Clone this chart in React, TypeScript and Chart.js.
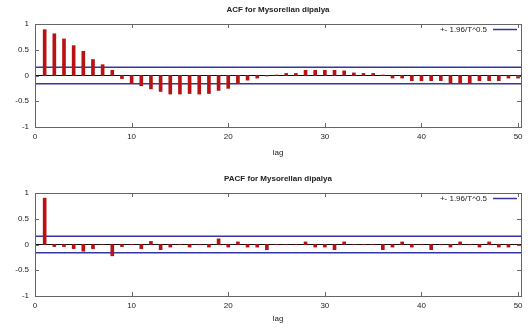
import React, { useEffect, useRef } from "react";
import { Chart, registerables } from "chart.js";

Chart.register(...registerables);

const lags = [
  1, 2, 3, 4, 5, 6, 7, 8, 9, 10, 11, 12, 13, 14, 15, 16, 17, 18, 19, 20, 21, 22, 23, 24, 25,
  26, 27, 28, 29, 30, 31, 32, 33, 34, 35, 36, 37, 38, 39, 40, 41, 42, 43, 44, 45, 46, 47, 48, 49, 50,
];

const acfValues = [
  0.89, 0.81, 0.71, 0.58, 0.47, 0.31, 0.21, 0.1, -0.06, -0.15,
  -0.2, -0.26, -0.31, -0.36, -0.36, -0.35, -0.36, -0.35, -0.29, -0.25,
  -0.15, -0.09, -0.05, -0.01, 0.01, 0.04, 0.04, 0.1, 0.1, 0.1,
  0.1, 0.09, 0.05, 0.04, 0.04, 0.01, -0.05, -0.05, -0.1, -0.1,
  -0.1, -0.1, -0.15, -0.15, -0.15, -0.1, -0.1, -0.1, -0.05, -0.05,
];

const pacfValues = [
  0.9, -0.04, -0.04, -0.08, -0.13, -0.08, 0.0, -0.22, -0.04, 0.0,
  -0.08, 0.06, -0.1, -0.05, 0.0, -0.05, 0.0, -0.05, 0.11, -0.05,
  0.05, -0.05, -0.05, -0.1, 0.0, 0.0, 0.0, 0.05, -0.05, -0.05,
  -0.1, 0.05, 0.0, 0.0, 0.0, -0.1, -0.05, 0.05, -0.05, 0.0,
  -0.1, 0.0, -0.05, 0.05, 0.0, -0.05, 0.05, -0.05, -0.05, 0.0,
];

const xTickValues = [0, 10, 20, 30, 40, 50];
const xTickLabels = ["0", "10", "20", "30", "40", "50"];
const yTickValues = [-1, -0.5, 0, 0.5, 1];
const yTickLabels = ["-1", "-0.5", "0", "0.5", "1"];
const confBand = 0.16;
const xMax = 50.3;
const legendLabel = "+- 1.96/T^0.5";
const acfTitle = "ACF for Mysorellan dipalya";
const pacfTitle = "PACF for Mysorellan dipalya";
const xAxisTitle = "lag";

const FONT = "'Liberation Sans', Arial, sans-serif";
const TEXT_COLOR = "#222";
const BAR_COLOR = "#b81212";
const BAND_COLOR = "#3636a0";

function framePlugin(title: string) {
  return {
    id: "frameDecor",
    afterDraw(chart: any) {
      const { ctx, chartArea: a, scales } = chart;
      const xs = scales.x;
      const ys = scales.y;
      ctx.save();
      ctx.strokeStyle = "#666";
      ctx.lineWidth = 1;
      ctx.strokeRect(Math.round(a.left) + 0.5, Math.round(a.top) + 0.5, Math.round(a.right - a.left), Math.round(a.bottom - a.top));
      ctx.beginPath();
      for (const v of xTickValues) {
        const px = Math.round(xs.getPixelForValue(v)) + 0.5;
        ctx.moveTo(px, a.bottom);
        ctx.lineTo(px, a.bottom - 4);
        ctx.moveTo(px, a.top);
        ctx.lineTo(px, a.top + 4);
      }
      for (const v of yTickValues) {
        const py = Math.round(ys.getPixelForValue(v)) + 0.5;
        ctx.moveTo(a.left, py);
        ctx.lineTo(a.left + 4, py);
        ctx.moveTo(a.right, py);
        ctx.lineTo(a.right - 4, py);
      }
      ctx.stroke();

      const ly = Math.round(a.top + 4.5) + 0.5;
      ctx.fillStyle = TEXT_COLOR;
      ctx.font = `8px ${FONT}`;
      ctx.textAlign = "right";
      ctx.textBaseline = "middle";
      ctx.fillText(legendLabel, a.right - 34, ly);
      ctx.strokeStyle = BAND_COLOR;
      ctx.lineWidth = 1.5;
      ctx.beginPath();
      ctx.moveTo(a.right - 28, ly);
      ctx.lineTo(a.right - 4, ly);
      ctx.stroke();

      ctx.fillStyle = TEXT_COLOR;
      ctx.font = `bold 8px ${FONT}`;
      ctx.textAlign = "center";
      ctx.fillText(title, (a.left + a.right) / 2, a.top - 14);
      ctx.restore();
    },
  };
}

type Props = {
  values: number[];
  title: string;
  height: number;
  top: number;
  padTop: number;
  xHeight: number;
  lagPad: number;
};

function CorrChart({ values, title, height, top, padTop, xHeight, lagPad }: Props) {
  const ref = useRef<HTMLCanvasElement | null>(null);
  useEffect(() => {
    if (!ref.current) return;
    const font = { family: FONT, size: 8 };
    const chart = new Chart(ref.current, {
      type: "bar",
      data: {
        datasets: [
          {
            type: "line",
            data: [
              { x: 0, y: 0 },
              { x: xMax, y: 0 },
            ],
            borderColor: "#111",
            borderWidth: 1,
            pointRadius: 0,
            order: 3,
          } as any,
          {
            type: "line",
            data: [
              { x: 0, y: confBand },
              { x: xMax, y: confBand },
            ],
            borderColor: BAND_COLOR,
            borderWidth: 1.5,
            pointRadius: 0,
            order: 2,
          } as any,
          {
            type: "line",
            data: [
              { x: 0, y: -confBand },
              { x: xMax, y: -confBand },
            ],
            borderColor: BAND_COLOR,
            borderWidth: 1.5,
            pointRadius: 0,
            order: 2,
          } as any,
          {
            type: "bar",
            data: lags.map((l, i) => ({ x: l, y: values[i] })),
            backgroundColor: BAR_COLOR,
            barThickness: 3,
            order: 1,
          } as any,
        ],
      },
      options: {
        responsive: false,
        animation: false,
        devicePixelRatio: 1,
        layout: { padding: { top: padTop, right: 7, left: 0, bottom: 0 } },
        plugins: {
          legend: { display: false },
          tooltip: { enabled: false },
          title: { display: false },
        },
        scales: {
          x: {
            type: "linear",
            min: 0,
            max: xMax,
            offset: false,
            grid: { display: false, drawTicks: false, offset: false },
            border: { display: false },
            ticks: {
              padding: 5,
              font,
              color: TEXT_COLOR,
              maxRotation: 0,
              autoSkip: false,
              callback: (_v: any, i: number) => xTickLabels[i],
            },
            afterBuildTicks: (s: any) => {
              s.ticks = xTickValues.map((v) => ({ value: v }));
            },
            afterFit: (s: any) => {
              s.height = xHeight;
            },
            title: {
              display: true,
              text: xAxisTitle,
              font,
              color: TEXT_COLOR,
              padding: { top: 0, bottom: lagPad },
            },
          },
          y: {
            type: "linear",
            min: -1,
            max: 1,
            grid: { display: false, drawTicks: false },
            border: { display: false },
            ticks: {
              padding: 6,
              font,
              color: TEXT_COLOR,
              callback: (_v: any, i: number) => yTickLabels[i],
            },
            afterBuildTicks: (s: any) => {
              s.ticks = yTickValues.map((v) => ({ value: v }));
            },
            afterFit: (s: any) => {
              s.width = 35;
            },
          },
        },
      } as any,
      plugins: [framePlugin(title)],
    });
    return () => chart.destroy();
  }, [values, title, padTop, xHeight, lagPad]);

  return (
    <div style={{ position: "absolute", left: 0, top, width: 528, height }}>
      <canvas ref={ref} width={528} height={height} style={{ display: "block" }} />
    </div>
  );
}

export default function App() {
  return (
    <div style={{ position: "fixed", left: 0, top: 0, width: 528, height: 329, background: "#fff" }}>
      <CorrChart values={acfValues} title={acfTitle} height={165} top={0} padTop={24} xHeight={38} lagPad={7} />
      <CorrChart values={pacfValues} title={pacfTitle} height={164} top={165} padTop={28} xHeight={33} lagPad={5} />
    </div>
  );
}
